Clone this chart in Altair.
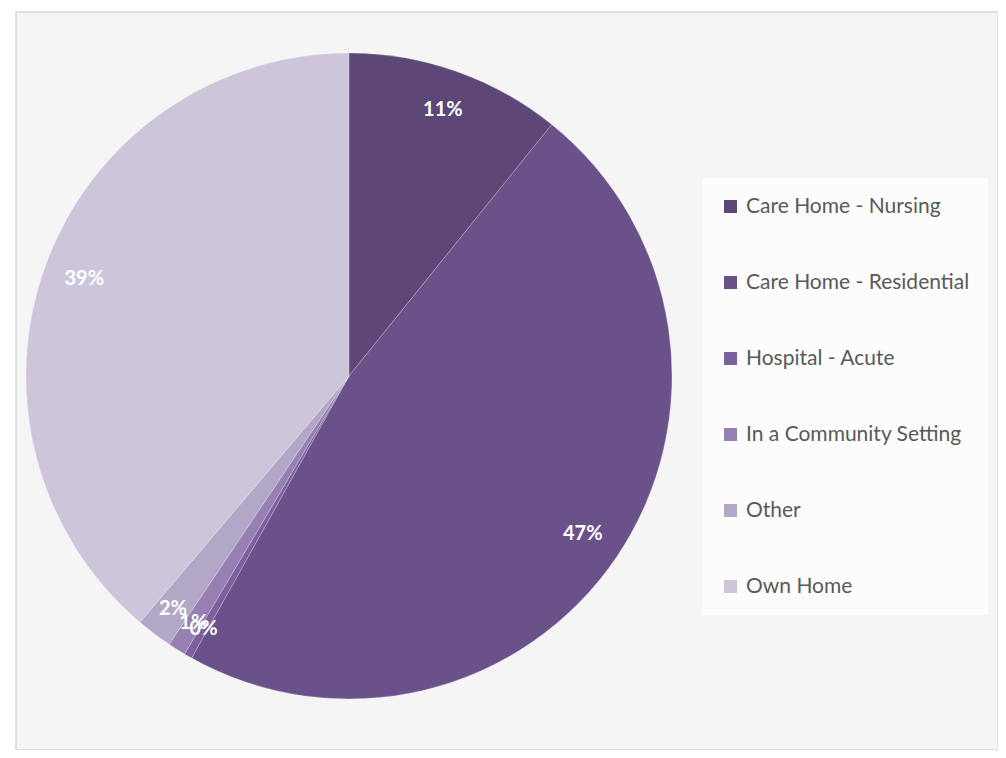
import altair as alt
import pandas as pd
import math

categories = ["Care Home - Nursing", "Care Home - Residential", "Hospital - Acute",
              "In a Community Setting", "Other", "Own Home"]
shares = [10.8, 47.3, 0.4, 0.9, 1.8, 38.8]
labels = ["11%", "47%", "0%", "1%", "2%", "39%"]
colors = ["#5C4776", "#6A5189", "#7B5F9F", "#9680B1", "#B3A7C8", "#CDC6DA"]

df = pd.DataFrame({
    "category": categories,
    "share": shares,
    "label": labels,
    "order": list(range(len(categories))),
})

theta_scale = alt.Scale(domain=[0, 100], range=[0, 2 * math.pi])
CX, CY, R = 333, 364, 323

color = alt.Color(
    "category:N",
    scale=alt.Scale(domain=categories, range=colors),
    sort=categories,
    legend=alt.Legend(
        title=None,
        orient="none",
        legendX=686,
        legendY=166,
        direction="vertical",
        symbolType="square",
        symbolSize=169,
        symbolStrokeWidth=0,
        labelFont="Lato",
        labelFontSize=21,
        labelColor="#595959",
        labelOffset=5,
        labelLimit=400,
        rowPadding=54,
        padding=18,
        fillColor="#fcfcfc",
    ),
)

pie = alt.Chart(df).mark_arc(radius=R, stroke="#ffffff", strokeWidth=0.6, strokeOpacity=0.35).encode(
    theta=alt.Theta("share:Q", stack=True, scale=theta_scale),
    order=alt.Order("order:Q"),
    color=color,
    x=alt.value(CX),
    y=alt.value(CY),
)

base_text = alt.Chart(df).transform_window(
    cum="sum(share)", sort=[alt.SortField("order")], frame=[None, 0]
).transform_calculate(
    mid="datum.cum - datum.share / 2"
)

big = base_text.transform_filter("datum.share >= 5").mark_text(
    radius=282, font="Lato", fontWeight="bold", fontSize=20, color="white"
).encode(
    theta=alt.Theta("mid:Q", scale=theta_scale),
    text="label:N",
    x=alt.value(CX),
    y=alt.value(CY),
)

small = base_text.transform_filter("datum.share < 5").mark_text(
    radius=292, font="Lato", fontWeight="bold", fontSize=20, color="white"
).encode(
    theta=alt.Theta("mid:Q", scale=theta_scale),
    text="label:N",
    x=alt.value(CX),
    y=alt.value(CY),
)

chart = alt.layer(pie, big, small).properties(
    width=982,
    height=738,
    padding={"left": 8, "top": 4, "right": 0, "bottom": 0},
    background="white",
).configure_view(
    fill="#f5f5f5",
    stroke="#d9d9d9",
    strokeWidth=1.5,
)

chart.save("out.html", embed_options={"renderer": "svg", "actions": False})
